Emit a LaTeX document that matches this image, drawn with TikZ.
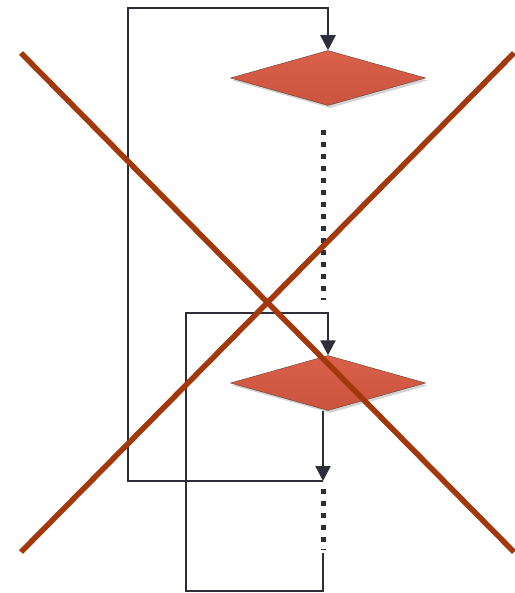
\documentclass[tikz,border=0pt]{standalone}
\usepackage{tikz}
\usetikzlibrary{positioning, arrows.meta, shapes.geometric, shadows}

\definecolor{lineDark}{RGB}{46,46,58}
\definecolor{decTop}{RGB}{218,96,74}
\definecolor{decBot}{RGB}{202,84,63}
\definecolor{decEdge}{RGB}{120,70,55}
\definecolor{crossRed}{RGB}{163,56,10}

\begin{document}
\begin{tikzpicture}[
        x=1pt, y=-1pt,
        >={Triangle[length=15pt, width=15pt]},
        dec/.style={diamond, draw=decEdge, line width=0.5pt, top color=decTop, bottom color=decBot, minimum width=195pt, minimum height=55pt, inner sep=0pt, drop shadow={shadow xshift=2pt, shadow yshift=-2.5pt, opacity=0.35}},
        flow/.style={draw=lineDark, line width=2.5pt},
        dots/.style={draw=lineDark, line width=5pt, dash pattern=on 5pt off 7pt},
        cross/.style={draw=crossRed, line width=5.5pt}
        ]
        \useasboundingbox (0,0) rectangle (514,593);

        % Nodes
        \node[dec] (TopDec) at (328, 78) {};
        \node[dec] (LowDec) at (328, 383) {};

        % Corners of the loops
        \coordinate (Merge) at (323, 481);
        \coordinate (TopCorner) at (128, 8);
        \coordinate (LowCorner) at (186, 313);
        \coordinate (DotTopA) at (323, 130);
        \coordinate (DotTopB) at (323, 300);
        \coordinate (DotLowA) at (323, 489);
        \coordinate (DotLowB) at (323, 550);
        \coordinate (TailTop) at (323, 553);
        \coordinate (TailEnd) at (323, 591);

        % Arrows
        % back to the upper decision
        \draw[flow, ->] (Merge) -| (TopCorner) -| (TopDec.north);

        % upper decision -> ... (elided)
        \draw[dots] (DotTopA) -- (DotTopB);

        % lower decision -> merge
        \draw[flow, ->] (LowDec.south -| Merge) -- (Merge);

        % merge -> ... (elided)
        \draw[dots] (DotLowA) -- (DotLowB);

        % back to the lower decision
        \draw[flow, ->] (TailTop) -- (TailEnd) -| (LowCorner) -| (LowDec.north);

        % Cross over the whole chart
        \draw[cross] (21, 53) -- (514, 552);
        \draw[cross] (21, 552) -- (514, 53);

    \end{tikzpicture}
\end{document}
